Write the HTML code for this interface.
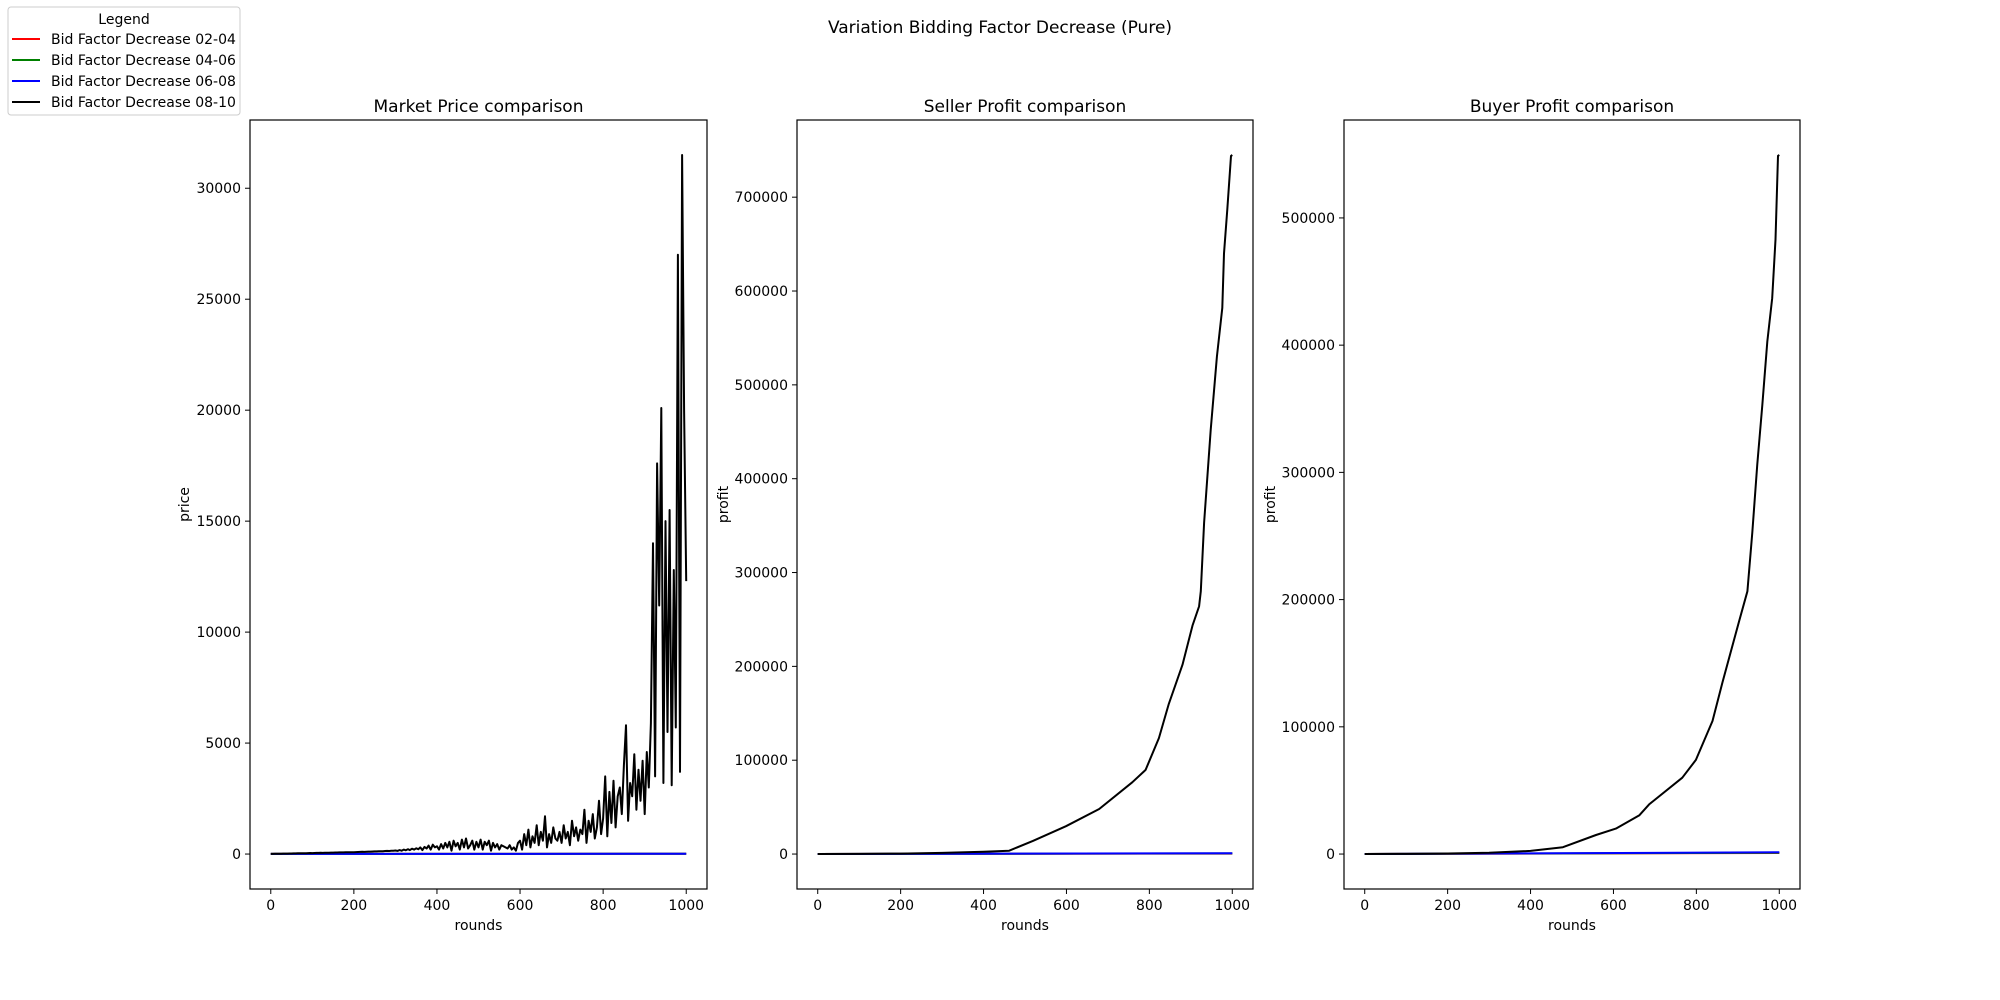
<!DOCTYPE html>
<html><head><meta charset="utf-8"><style>
body{margin:0;background:#fff}
svg{display:block;font-family:"DejaVu Sans","Liberation Sans",sans-serif}
</style></head><body>
<svg id="fig" width="2000" height="1000" viewBox="0 0 2000 1000">
<rect width="2000" height="1000" fill="#fff"/>
<text x="1000" y="33" font-size="17" text-anchor="middle">Variation Bidding Factor Decrease (Pure)</text>
<g>
<rect x="8" y="7" width="232" height="108" rx="3" fill="#fff" stroke="#ccc"/>
<text x="124" y="24" font-size="14" text-anchor="middle">Legend</text>
<g><line x1="12" y1="39" x2="40" y2="39" stroke="#ff0000" stroke-width="2"/><text x="51" y="44" font-size="14">Bid Factor Decrease 02-04</text></g>
<g><line x1="12" y1="60" x2="40" y2="60" stroke="#008000" stroke-width="2"/><text x="51" y="65" font-size="14">Bid Factor Decrease 04-06</text></g>
<g><line x1="12" y1="81" x2="40" y2="81" stroke="#0000ff" stroke-width="2"/><text x="51" y="86" font-size="14">Bid Factor Decrease 06-08</text></g>
<g><line x1="12" y1="102" x2="40" y2="102" stroke="#000" stroke-width="2"/><text x="51" y="107" font-size="14">Bid Factor Decrease 08-10</text></g>
</g>
</svg>
<script>
// ---- data ----
const priceRounds5 = 5; // sampling step of price series (rounds)
const priceBlack = [5,8,10,12,15,14,18,20,22,25,24,28,30,32,35,33,38,40,42,45,44,48,50,52,55,53,58,60,62,65,63,68,70,72,75,73,78,80,82,85,84,88,90,95,100,98,105,110,108,115,120,118,125,130,128,135,140,138,145,150,
160,140,180,150,200,170,220,180,240,200,260,220,300,180,320,250,380,200,420,300,
350,200,450,250,500,300,550,150,600,350,500,200,650,300,700,250,400,600,200,550,
300,650,200,550,400,600,150,500,300,450,200,400,350,300,250,400,200,300,150,500,
600,200,900,400,1100,300,800,500,1300,400,1000,600,1700,300,900,500,1200,700,600,1000,
500,1300,700,1000,400,1500,800,1200,600,1100,900,2000,500,1500,1000,1800,700,1200,2400,900,
1600,3500,800,2800,1400,3300,1200,2600,3000,1800,4000,5800,1500,3200,2600,4500,2000,3800,2400,4200,
1800,4600,3000,5900,14000,3500,17600,11200,20100,3200,15000,5500,15500,3100,12800,5700,27000,3700,31500,20000,
12300];
const flatRounds = [0,1000];
const priceRed = [5,10], priceGreen = [5,10], priceBlue = [5,12];
const profitRounds = [0,100,200,300,400,462,519,599,679,759,791,823,847,880,904,920,924,932,948,963,976,980,988,997,1000];
const sellerBlack = [0,150,500,1200,2500,3600,14000,29700,48000,76600,89700,123600,160000,201800,243500,264000,280000,353000,452000,530000,582000,640000,687000,744000,745000];
const buyerRounds = [0,100,200,300,400,478,558,606,662,686,766,799,839,863,903,923,935,947,959,971,983,991,997,1000];
const buyerBlack = [0,150,450,1000,2500,5400,15000,20000,30400,39000,60000,74000,104600,135000,183000,206500,252700,306500,352700,402700,437000,483000,548800,549500];
const sellerRed=[0,500], sellerGreen=[0,700], sellerBlue=[0,900];
const buyerRed=[0,800], buyerGreen=[0,1000], buyerBlue=[0,1400];
const xTicks=[0,200,400,600,800,1000];
const priceTicks=[0,5000,10000,15000,20000,25000,30000];
const sellerTicks=[0,100000,200000,300000,400000,500000,600000,700000];
const buyerTicks=[0,100000,200000,300000,400000,500000];

const NS="http://www.w3.org/2000/svg", fig=document.getElementById('fig');
function mk(tag,attrs,parent){const e=document.createElementNS(NS,tag);for(const k in attrs)e.setAttribute(k,attrs[k]);(parent||fig).appendChild(e);return e;}

function panel(o){
  const g=mk('g',{});
  
  
  const L=o.x0,R=o.x1,T=120,B=889;
  const xs=v=>L+(v+50)/1100*(R-L);
  const ys=v=>B-(v-o.ymin)/(o.ymax-o.ymin)*(B-T);
  const clip=mk('clipPath',{id:'c'+o.name},g);mk('rect',{x:L,y:T,width:R-L,height:B-T},clip);
  const pg=mk('g',{'clip-path':'url(#c'+o.name+')'},g);
  o.series.forEach(s=>{
    const pts=s.ys.map((v,i)=>xs(s.xs(i)).toFixed(1)+','+ys(v).toFixed(1)).join(' ');
    const pl=mk('polyline',{points:pts,fill:'none',stroke:s.c,'stroke-width':2,'stroke-linejoin':'round'},pg);
    
    
  });
  const fr=mk('rect',{x:L,y:T,width:R-L,height:B-T,fill:'none',stroke:'#000','stroke-width':1.2},g);
  
  
  xTicks.forEach(t=>{const x=xs(t);mk('line',{x1:x,y1:B,x2:x,y2:B+5,stroke:'#000'},g);
    const tx=mk('text',{x:x,y:B+21,'font-size':14,'text-anchor':'middle'},g);tx.textContent=t;
    
    });
  o.ticks.forEach(t=>{const y=ys(t);mk('line',{x1:L-5,y1:y,x2:L,y2:y,stroke:'#000'},g);
    const tx=mk('text',{x:L-9,y:y+5,'font-size':14,'text-anchor':'end'},g);tx.textContent=t;
    
    });
  const tt=mk('text',{x:(L+R)/2,y:112,'font-size':17,'text-anchor':'middle'},g);tt.textContent=o.title;
  
  
  const xl=mk('text',{x:(L+R)/2,y:930,'font-size':14,'text-anchor':'middle'},g);xl.textContent='rounds';
  
  
  const yl=mk('text',{x:0,y:0,'font-size':14,'text-anchor':'middle',transform:`translate(${o.ylx},${(T+B)/2}) rotate(-90)`},g);yl.textContent=o.ylabel;
  
  
}
const idx5=i=>i*priceRounds5, flat=i=>flatRounds[i];
panel({name:'market-price-panel',x0:250,x1:707,ymin:-1575,ymax:33075,ticks:priceTicks,title:'Market Price comparison',ylabel:'price',ylx:189,
  series:[{n:'price-02-04',c:'#ff0000',ys:priceRed,xs:flat},{n:'price-04-06',c:'#008000',ys:priceGreen,xs:flat},{n:'price-06-08',c:'#0000ff',ys:priceBlue,xs:flat},{n:'price-08-10',c:'#000',ys:priceBlack,xs:idx5}]});
panel({name:'seller-profit-panel',x0:797,x1:1253,ymin:-37250,ymax:782250,ticks:sellerTicks,title:'Seller Profit comparison',ylabel:'profit',ylx:728,
  series:[{n:'seller-02-04',c:'#ff0000',ys:sellerRed,xs:flat},{n:'seller-04-06',c:'#008000',ys:sellerGreen,xs:flat},{n:'seller-06-08',c:'#0000ff',ys:sellerBlue,xs:flat},{n:'seller-08-10',c:'#000',ys:sellerBlack,xs:i=>profitRounds[i]}]});
panel({name:'buyer-profit-panel',x0:1344,x1:1800,ymin:-27475,ymax:576975,ticks:buyerTicks,title:'Buyer Profit comparison',ylabel:'profit',ylx:1275,
  series:[{n:'buyer-02-04',c:'#ff0000',ys:buyerRed,xs:flat},{n:'buyer-04-06',c:'#008000',ys:buyerGreen,xs:flat},{n:'buyer-06-08',c:'#0000ff',ys:buyerBlue,xs:flat},{n:'buyer-08-10',c:'#000',ys:buyerBlack,xs:i=>buyerRounds[i]}]});
</script>
</body></html>
